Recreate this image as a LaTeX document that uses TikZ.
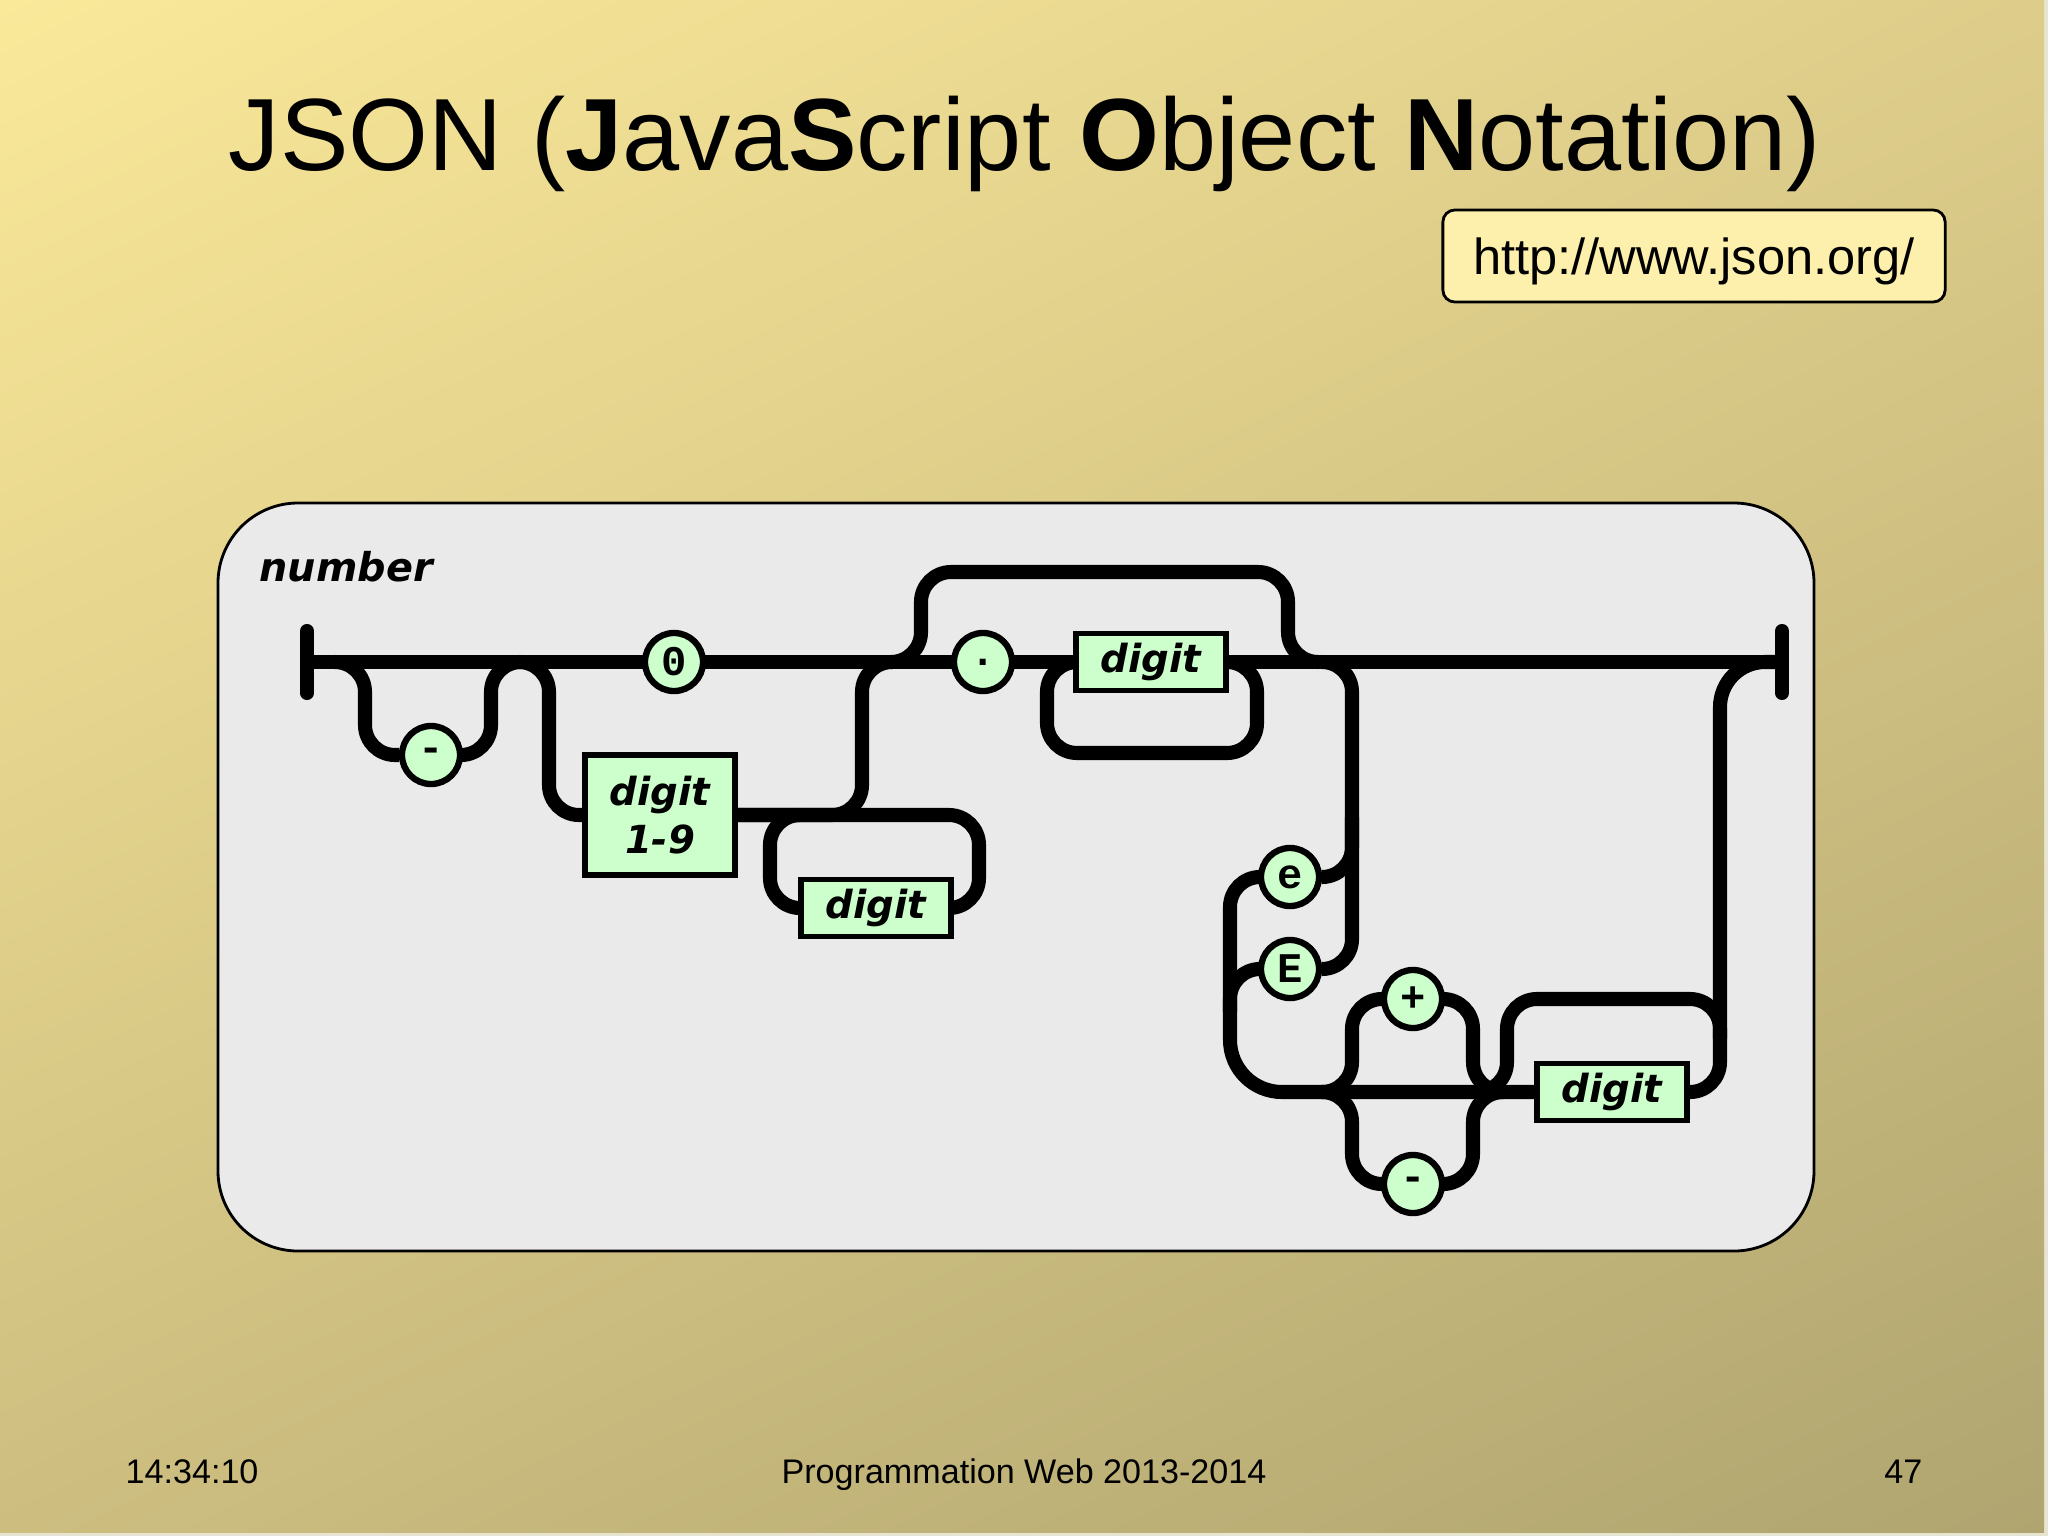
\documentclass[tikz,border=0pt]{standalone}
\usepackage{fontspec}
\setmainfont{Liberation Sans}
\newfontfamily\railfont{DejaVu Sans}
\newfontfamily\charfont{Liberation Mono}
\usetikzlibrary{positioning,calc,backgrounds,shadings}
\definecolor{slidetl}{RGB}{250,233,153}
\definecolor{slidetr}{RGB}{222,205,138}
\definecolor{slidebl}{RGB}{205,190,128}
\definecolor{slidebr}{RGB}{176,165,112}
\definecolor{slideedge}{RGB}{232,228,210}
\definecolor{panelgray}{RGB}{234,234,234}
\definecolor{railgreen}{RGB}{204,255,204}
\definecolor{urlfill}{RGB}{253,240,172}
\tikzstyle{rail}=[line width=4pt,rounded corners=0.3cm]
\tikzstyle{railbar}=[line width=4pt,line cap=round]
\tikzstyle{lit}=[draw,circle,fill=railgreen,line width=1.8pt,minimum size=0.58cm,inner sep=0pt,font=\charfont\bfseries\fontsize{12pt}{12pt}\selectfont]
\tikzstyle{nonterm}=[draw,fill=railgreen,line width=1.6pt,minimum width=1.5cm,minimum height=0.57cm,inner sep=0pt,align=center,font=\railfont\bfseries\itshape\fontsize{11pt}{13.5pt}\selectfont]
\tikzstyle{urlbox}=[draw,fill=urlfill,line width=0.8pt,rounded corners=0.12cm,minimum width=5.02cm,minimum height=0.92cm,text depth=0pt,font=\fontsize{14.4pt}{17pt}\selectfont]
\tikzstyle{foot}=[inner sep=0pt,font=\fontsize{9.7pt}{11pt}\selectfont]

\begin{document}
\begin{tikzpicture}[x=0.01cm,y=-0.01cm]
\useasboundingbox (0,0) rectangle (2048,1536);
\node[anchor=base,inner sep=0pt,font=\fontsize{29.2pt}{34pt}\selectfont] (title) at (1025,170) {JSON (\textbf{J}ava\textbf{S}cript \textbf{O}bject \textbf{N}otation)};
\node[urlbox] (url) at (1694,256) {http://www.json.org/};
\node[anchor=base west,inner sep=0pt,font=\railfont\bfseries\itshape\fontsize{11.3pt}{13pt}\selectfont] (name) at (259,581) {number};
\coordinate (start) at (307,662);
\coordinate (stop) at (1782,662);
\node[lit] (minus1) at (431,755) {-};
\node[lit] (zero) at (674,662) {0};
\node[nonterm,minimum height=1.2cm] (d19) at (660,815) {digit\\1-9};
\node[nonterm] (dloop) at (876,908) {digit};
\node[lit] (dot) at (983,662) {.};
\node[nonterm] (dfrac) at (1151,662) {digit};
\node[lit] (ee) at (1290,877) {e};
\node[lit] (EE) at (1290,969) {E};
\node[lit] (plus) at (1413,999) {+};
\node[lit] (minus2) at (1413,1184) {-};
\node[nonterm] (dexp) at (1612,1092) {digit};
\node[foot,anchor=base west] (clock) at (125,1483) {14:34:10};
\node[foot,anchor=base] (course) at (1024,1483) {Programmation Web 2013-2014};
\node[foot,anchor=base east] (page) at (1923,1483) {47};
\coordinate (j1) at (365,662);
\coordinate (j2) at (491,662);
\coordinate (j3) at (549,662);
\coordinate (j4) at (862,662);
\coordinate (dll) at (770,815);
\coordinate (dlr) at (979,908);
\coordinate (j5) at (921,662);
\coordinate (j6) at (1288,662);
\coordinate (j7) at (1257,662);
\coordinate (j8) at (1047,662);
\coordinate (j9) at (1352,662);
\coordinate (j10) at (1230,1092);
\coordinate (sgnin) at (1352,1092);
\coordinate (sgnout) at (1473,1092);
\coordinate (loopl) at (1507,1092);
\coordinate (jexit) at (1720,662);
\begin{scope}[on background layer]
\fill[slideedge] (0,0) rectangle (2048,1536);
\shade[upper left=slidetl,upper right=slidetr,lower left=slidebl,lower right=slidebr] (0,0) rectangle (2044,1532);
\draw[fill=panelgray,line width=0.8pt,rounded corners=0.8cm] (218,503) rectangle (1814,1251);
\draw[rail] (start) -- (stop);
\draw[rail] ($(j1)+(-30,0)$) -- (j1) |- (minus1) -| (j2) -- ++(30,0);
\draw[rail] ($(j3)+(-30,0)$) -- (j3) |- (d19);
\draw[rail] (d19) -| (j4) -- ++(30,0);
\draw[rail] (d19) -| (dlr) -- (dloop);
\draw[rail] (dloop) -| (dll) -- ++(30,0);
\draw[rail] ($(j5)+(-30,0)$) -- (j5) |- ($(j6)+(0,-90)$) -- (j6) -- ++(30,0);
\draw[rail] ($(j7)+(-30,0)$) -- (j7) |- ($(j8)+(0,91)$) -- (j8) -- ++(30,0);
\draw[rail] ($(j9)+(-30,0)$) -- (j9) |- (EE);
\draw[rail] ($(ee -| j9)+(0,-60)$) -- (ee -| j9) -- (ee);
\draw[rail] (ee) -| ($(j10)+(0,-80)$);
\draw[rail] (EE) -| ($(j10)+(0,-80)$);
\draw[rail,rounded corners=0.52cm] ($(j10)+(0,-80)$) -- (j10) -- (dexp);
\draw[rail] ($(sgnin)+(-30,0)$) -- (sgnin) |- (plus) -| (sgnout) -- ++(30,0);
\draw[rail] ($(sgnin)+(-30,0)$) -- (sgnin) |- (minus2) -| (sgnout) -- ++(30,0);
\draw[rail] ($(loopl)+(-30,0)$) -- (loopl) |- (plus -| jexit) -- ++(0,40);
\draw[rail] (dexp) -| ($(jexit)+(0,100)$);
\draw[rail,rounded corners=0.45cm] ($(jexit)+(0,100)$) -- (jexit) -- (stop);
\draw[railbar] ($(start)+(0,-31)$) -- ($(start)+(0,31)$);
\draw[railbar] ($(stop)+(0,-31)$) -- ($(stop)+(0,31)$);
\end{scope}
\end{tikzpicture}
\end{document}
